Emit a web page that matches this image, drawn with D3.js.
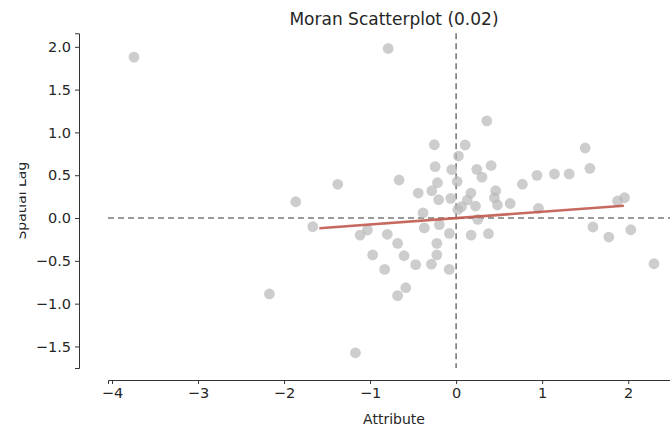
<!DOCTYPE html>
<html>
<head>
<meta charset="utf-8">
<script src="https://cdn.jsdelivr.net/npm/d3@7"></script>
<style>
    body { margin: 0; background: #fff; }
    svg text { font-family: "DejaVu Sans", sans-serif; fill: #262626; }
    .axis path, .axis line { stroke: #333; }
    .axis text { font-size: 14.5px; }
    .plot-title { font-size: 17px; text-anchor: middle; }
    .axis-label { font-size: 14px; text-anchor: middle; }
</style>
</head>
<body>
<div id="scatter"></div>
<script>
// Define variables
// ============================================================================
const title = "Moran Scatterplot (0.02)",
    xLabel = "Attribute",
    yLabel = "Spatial Lag";

// standardised attribute (x) and its spatial lag (y)
const attribute = [
    -3.744, -0.79, -1.864, -1.666, -1.376, -2.17, -1.17, 0.357, -0.253, 0.105,
    0.027, -0.244, -0.05, 0.24, 0.407, 0.30, -0.663, -0.217, 0.012, -0.283,
    -0.44, -0.203, -0.062, 0.172, 0.13, 0.46, 0.445, 0.48, 0.225, 0.062,
    0.02, 0.628, 0.77, 0.94, -0.385, -1.116, -1.03, -0.80, -0.37, -0.195,
    -0.078, 0.174, 0.376, 0.252, -0.68, -0.224, -0.97, -0.605, -0.224, -0.83,
    -0.47, -0.287, -0.08, -0.585, -0.68, 1.50, 1.555, 1.143, 1.314, 0.957,
    1.876, 1.957, 1.59, 1.775, 2.03, 2.30
];
const spatialLag = [
    1.88, 1.98, 0.19, -0.10, 0.394, -0.887, -1.574, 1.135, 0.856, 0.853,
    0.724, 0.60, 0.565, 0.569, 0.613, 0.477, 0.444, 0.412, 0.427, 0.319,
    0.292, 0.214, 0.23, 0.292, 0.21, 0.319, 0.237, 0.152, 0.14, 0.132,
    0.10, 0.17, 0.395, 0.499, 0.06, -0.199, -0.14, -0.19, -0.115, -0.077,
    -0.179, -0.199, -0.183, -0.015, -0.296, -0.296, -0.43, -0.44, -0.43, -0.60,
    -0.545, -0.54, -0.60, -0.814, -0.907, 0.818, 0.58, 0.514, 0.514, 0.113,
    0.199, 0.237, -0.105, -0.222, -0.137, -0.534
];

// fitted line end points
const fitX = [-1.59, 1.95],
    fitY = [-0.12, 0.144];

const xTicks = [-4, -3, -2, -1, 0, 1, 2],
    yTicks = [-1.5, -1.0, -0.5, 0.0, 0.5, 1.0, 1.5, 2.0];

const width = 670,
    height = 430,
    plot = {left: 108, right: 680, top: 33.3, bottom: 368},
    leftSpineX = 79,
    bottomSpineY = 380;

// Define Functions
// ============================================================================
function padded(values) {
    // matplotlib style 5% margins
    const [lo, hi] = d3.extent(values);
    const pad = (hi - lo) * 0.05;
    return [lo - pad, hi + pad];
}

function minus(v) {
    return String(v).replace("-", "\u2212");
}

// Plot
// ============================================================================
const points = attribute.map((x, i) => ({x: x, y: spatialLag[i]}));

let svg = d3.select("#scatter")
    .append("svg")
        .attr("width", width)
        .attr("height", height);

// Create Scales
let xScale = d3.scaleLinear()
    .domain(padded(attribute))
    .range([plot.left, plot.right]);

let yScale = d3.scaleLinear()
    .domain(padded(spatialLag))
    .range([plot.bottom, plot.top]);

// Reference lines through the origin
svg.append("line")
    .attr("x1", plot.left).attr("x2", plot.right)
    .attr("y1", yScale(0)).attr("y2", yScale(0))
    .attr("stroke", "#7a7a7a")
    .attr("stroke-width", 1.6)
    .attr("stroke-dasharray", "6,4");

svg.append("line")
    .attr("x1", xScale(0)).attr("x2", xScale(0))
    .attr("y1", plot.top).attr("y2", plot.bottom)
    .attr("stroke", "#7a7a7a")
    .attr("stroke-width", 1.6)
    .attr("stroke-dasharray", "6,4");

// Points
svg.append("g")
    .selectAll("circle")
    .data(points)
    .join("circle")
        .attr("cx", d => xScale(d.x))
        .attr("cy", d => yScale(d.y))
        .attr("r", 5.4)
        .attr("fill", "#b8b8b8")
        .attr("fill-opacity", 0.7);

// Fitted line
svg.append("path")
    .datum(fitX.map((x, i) => ({x: x, y: fitY[i]})))
        .attr("fill", "none")
        .attr("stroke", "#c0594c")
        .attr("stroke-opacity", 0.9)
        .attr("stroke-width", 2.6)
        .attr("d", d3.line()
            .x(d => xScale(d.x))
            .y(d => yScale(d.y)));

// Plot Axes (despined and offset)
svg.append("g")
    .attr("class", "axis")
    .attr("transform", "translate(0," + bottomSpineY + ")")
    .call(d3.axisBottom(xScale)
        .tickValues(xTicks)
        .tickFormat(minus)
        .tickSizeOuter(0)
        .tickSize(4)
        .tickPadding(4));

svg.append("g")
    .attr("class", "axis")
    .attr("transform", "translate(" + leftSpineX + ",0)")
    .call(d3.axisLeft(yScale)
        .tickValues(yTicks)
        .tickFormat(d => minus(d3.format(".1f")(d)))
        .tickSizeOuter(0)
        .tickSize(4)
        .tickPadding(4));

// Add Title and labels
svg.append("text")
    .attr("class", "plot-title")
    .attr("x", (plot.left + plot.right) / 2)
    .attr("y", 25)
    .text(title);

svg.append("text")
    .attr("class", "axis-label")
    .attr("x", (plot.left + plot.right) / 2)
    .attr("y", 424)
    .text(xLabel);

// the y label is cut off on its left side in the original
svg.append("clipPath")
    .attr("id", "ylab-clip")
    .append("rect")
        .attr("x", 19.5).attr("y", 0)
        .attr("width", 40).attr("height", height);

svg.append("g")
    .attr("clip-path", "url(#ylab-clip)")
    .append("text")
        .attr("class", "axis-label")
        .attr("transform", "translate(26," + (plot.top + plot.bottom) / 2 + ") rotate(-90)")
        .text(yLabel);
</script>
</body>
</html>
